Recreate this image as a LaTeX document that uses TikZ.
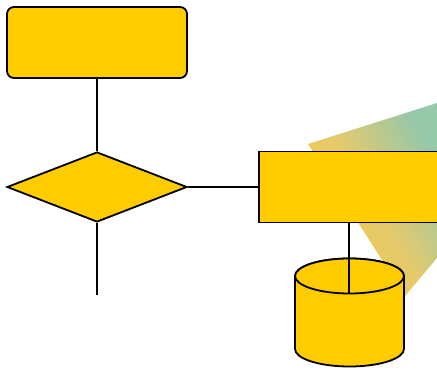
\documentclass[tikz,border=0pt]{standalone}
\usepackage{tikz}
\usetikzlibrary{shapes.geometric,positioning,calc}
\definecolor{flowyellow}{RGB}{255,204,0}
\definecolor{beamgreen}{RGB}{150,200,170}
\definecolor{beammid}{RGB}{228,202,108}
\definecolor{beamyellow}{RGB}{246,200,72}

\begin{document}
\begin{tikzpicture}[x=1pt, y=1pt,
    box/.style={draw, fill=flowyellow, line width=1.8pt, inner sep=0pt},
    link/.style={line width=1.5pt}]
    \useasboundingbox (0,0) rectangle (437,370);

    % light beam behind the process box
    \shade[top color=beamgreen, bottom color=beamyellow,
           middle color=beammid, shading angle=-60]
        (308,226) -- (437,267) -- (437,112) -- (405,74) -- cycle;

    % start, decision and process
    \node[box, rounded corners=7pt, minimum width=180pt, minimum height=71pt] (start) at (97,327.5) {};
    \node[box, diamond, minimum width=180pt, minimum height=70pt] (decide) at (97,183) {};
    \node[box, minimum width=200pt, minimum height=71pt] (proc) at (359,183) {};

    % data store (drawn by hand, the cylinder shape gives flat caps here)
    \draw[box] (295,94) -- (295,21)
        arc[start angle=180, end angle=360, x radius=54.5pt, y radius=17.5pt]
        -- (404,94)
        arc[start angle=0, end angle=180, x radius=54.5pt, y radius=17.5pt] -- cycle;
    \draw[box] (349.5,94) ellipse [x radius=54.5pt, y radius=17.5pt];

    \coordinate (exit) at (97,75);
    \coordinate (storein) at (349,76);

    \draw[link] (start.south) -- (decide.north);
    \draw[link] (decide.south) -- (exit);
    \draw[link] (decide.east) -- (proc.west);
    \draw[link] (storein |- proc.south) -- (storein);
\end{tikzpicture}
\end{document}
